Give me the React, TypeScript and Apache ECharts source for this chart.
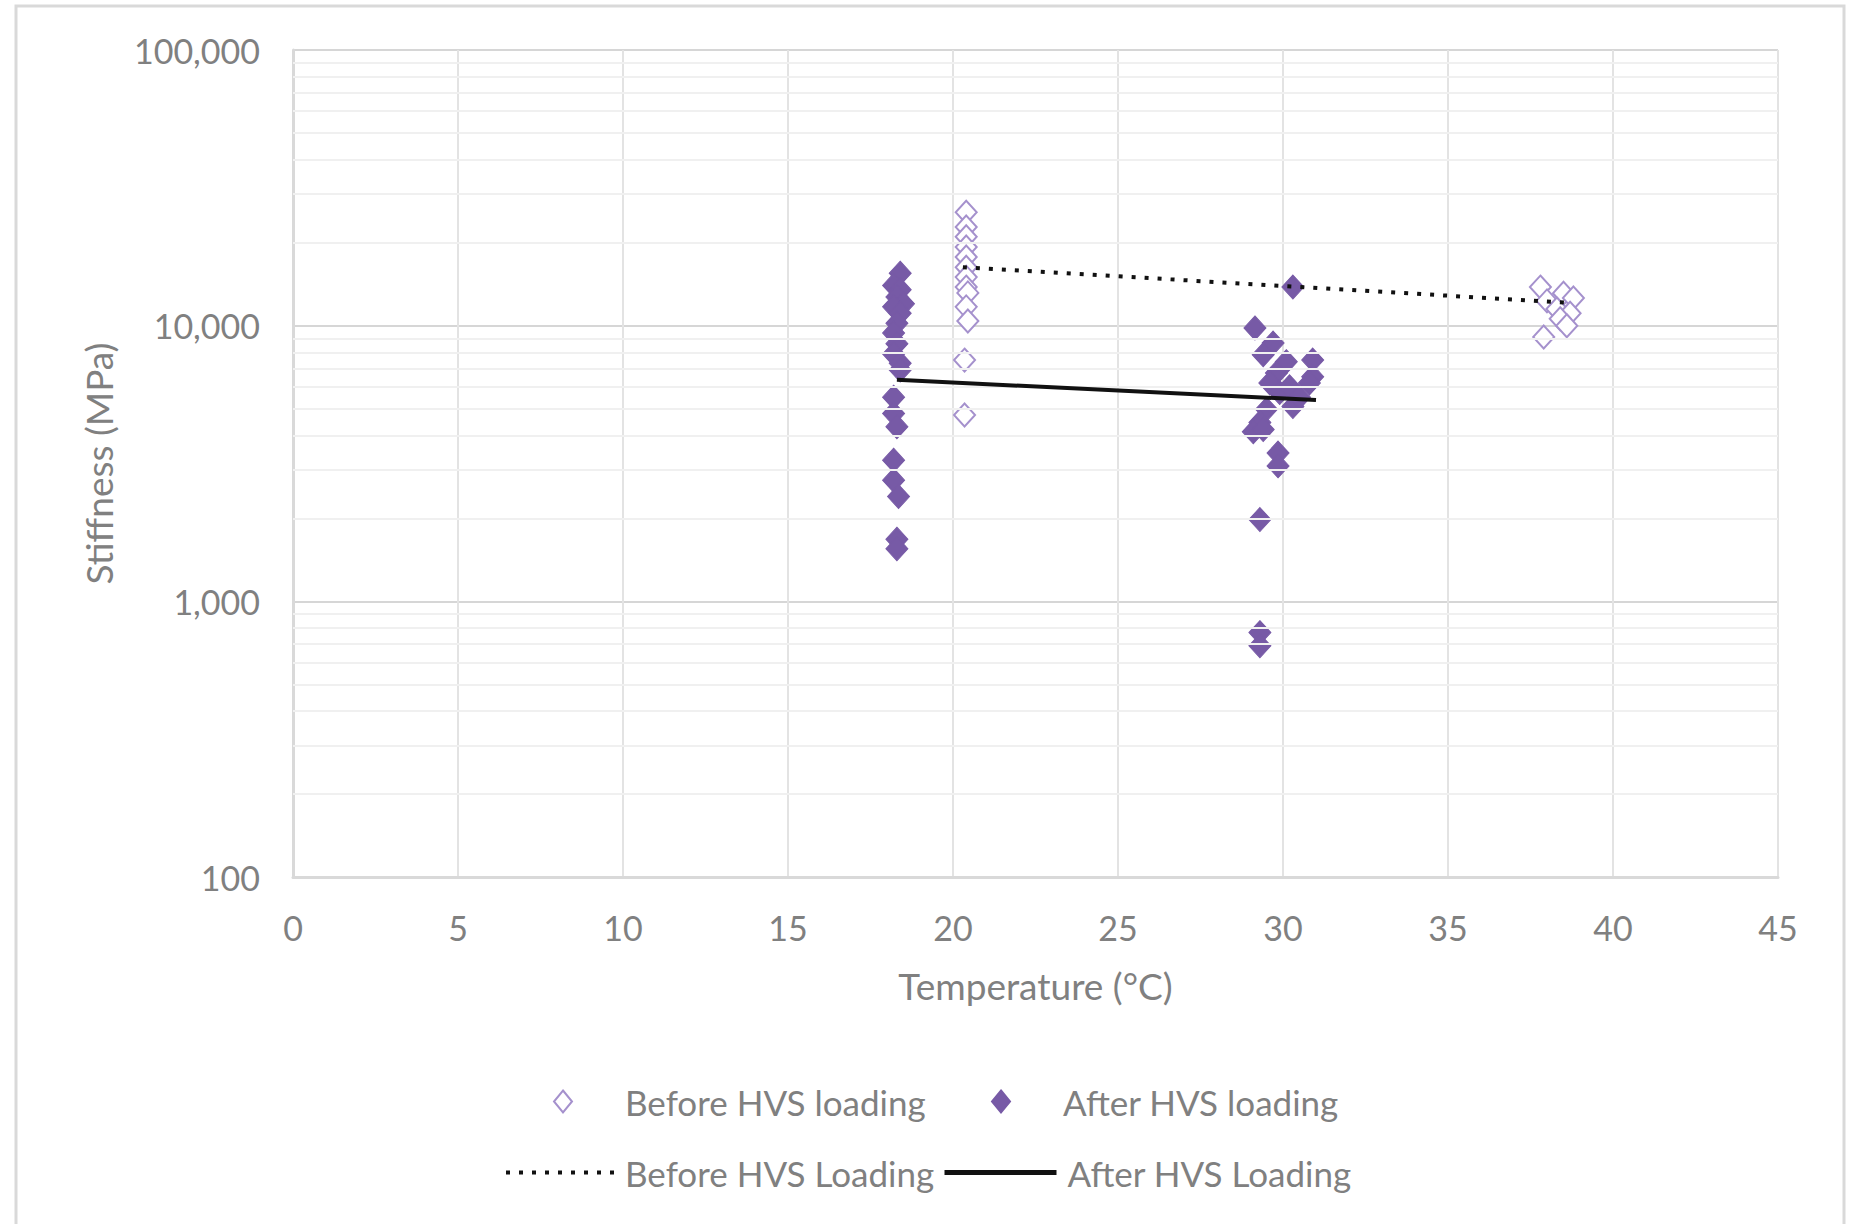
import React, { useEffect, useRef } from "react";
import * as echarts from "echarts";

// Before HVS loading (open diamonds)
const beforeTemp = [20.4, 20.4, 20.4, 20.4, 20.4, 20.4, 20.4, 20.4, 20.45, 20.4, 20.45, 20.35, 20.35,
  37.8, 38.5, 38.8, 38.0, 38.3, 38.7, 38.4, 37.9, 38.6];
const beforeStiff = [25800, 22800, 21000, 19300, 17750, 16300, 15000, 13800, 13150, 11700, 10400, 7500, 4740,
  13800, 13100, 12600, 12300, 11500, 11100, 10600, 9100, 10000];

// After HVS loading (filled diamonds)
const afterTemp = [18.4, 18.2, 18.4, 18.3, 18.5, 18.2, 18.4, 18.3, 18.2, 18.3, 18.2, 18.4, 18.4, 18.2, 18.2, 18.3, 18.2, 18.2, 18.35, 18.3, 18.3,
  30.3, 29.15, 29.7, 29.4, 30.1, 30.9, 30.9, 29.8, 29.6, 30.8, 29.9, 30.3, 29.5, 29.3, 29.1, 29.85, 29.85, 29.3, 29.3, 29.3, 30.2, 30.5, 29.4];
const afterStiff = [15500, 14000, 13500, 12700, 12000, 11700, 11100, 10200, 9400, 8600, 7900, 7300, 6900, 5500, 4800, 4300, 3250, 2750, 2400, 1680, 1550,
  13800, 9810, 8650, 7850, 7400, 7500, 6530, 6740, 6200, 6200, 5720, 5090, 4970, 4450, 4120, 3450, 3100, 1980, 770, 690, 6000, 5500, 4200];

// Trend lines
const beforeTrendTemp = [20.3, 38.7];
const beforeTrendStiff = [16300, 12100];
const afterTrendTemp = [18.3, 31.0];
const afterTrendStiff = [6360, 5375];

// Axis ticks / log minor grid
const xMin = 0;
const xMax = 45;
const xStep = 5;
const yMin = 100;
const yMax = 100000;
const minorGridValues = [200, 300, 400, 500, 600, 700, 800, 900,
  2000, 3000, 4000, 5000, 6000, 7000, 8000, 9000,
  20000, 30000, 40000, 50000, 60000, 70000, 80000, 90000];

const FONT = "Lato";
const TEXT = "#808080";
const PURPLE = "#775aa6";
const LIGHT_PURPLE = "#a591cd";

const zip = (xs: number[], ys: number[]) => xs.map((x, i) => [x, ys[i]]);

export default function App() {
  const ref = useRef<HTMLDivElement>(null);
  useEffect(() => {
    const chart = echarts.init(ref.current!, null, { renderer: "svg" });
    const legendText = { fontFamily: FONT, fontSize: 35, color: TEXT };
    const symLegendText = { ...legendText, padding: [0, 0, 0, 48] };
    const hiddenSymbol = { color: "rgba(0,0,0,0)", borderWidth: 0, opacity: 0 };
    chart.setOption({
      animation: false,
      backgroundColor: "#ffffff",
      textStyle: { fontFamily: FONT },
      graphic: [
        {
          type: "rect",
          shape: { x: 16, y: 6, width: 1828, height: 1260 },
          style: { fill: "none", stroke: "#d9d9d9", lineWidth: 3 },
          silent: true,
        },
      ],
      grid: { left: 293, top: 50, right: 74, bottom: 347 },
      xAxis: {
        type: "value",
        min: xMin,
        max: xMax,
        interval: xStep,
        name: "Temperature (°C)",
        nameLocation: "middle",
        nameGap: 90,
        nameTextStyle: { fontFamily: FONT, fontSize: 37, color: TEXT },
        axisLine: { show: true, lineStyle: { color: "#d9d9d9", width: 3 } },
        axisTick: { show: false },
        axisLabel: { fontFamily: FONT, fontSize: 34, color: TEXT, margin: 33 },
        splitLine: { show: true, lineStyle: { color: "#e3e3e3", width: 2 } },
      },
      yAxis: {
        type: "log",
        logBase: 10,
        min: yMin,
        max: yMax,
        name: "Stiffness (MPa)",
        nameLocation: "middle",
        nameGap: 176,
        nameTextStyle: { fontFamily: FONT, fontSize: 37, color: TEXT },
        axisLine: { show: true, lineStyle: { color: "#d9d9d9", width: 3 } },
        axisTick: { show: false },
        axisLabel: {
          fontFamily: FONT,
          fontSize: 34,
          color: TEXT,
          margin: 33,
          formatter: (v: number) => Math.round(v).toLocaleString("en-US"),
        },
        splitLine: { show: true, lineStyle: { color: "#d6d6d6", width: 2 } },
      },
      legend: [
        {
          data: [{ name: "Before HVS loading", icon: "diamond", itemStyle: { color: "#ffffff", borderColor: LIGHT_PURPLE, borderWidth: 2, opacity: 1 } }],
          left: 553, top: 1084, padding: 0, itemWidth: 18, itemHeight: 22, textStyle: symLegendText,
        },
        {
          data: [{ name: "After HVS loading", icon: "diamond", itemStyle: { color: PURPLE, borderColor: PURPLE, opacity: 1 } }],
          left: 991, top: 1084, padding: 0, itemWidth: 18, itemHeight: 22, textStyle: symLegendText,
        },
        {
          data: ["Before HVS Loading"],
          left: 504, top: 1155, padding: 0, itemWidth: 114, itemHeight: 20, textStyle: legendText,
          itemStyle: hiddenSymbol,
          lineStyle: { width: 4 },
        },
        {
          data: ["After HVS Loading"],
          left: 942, top: 1155, padding: 0, itemWidth: 112, itemHeight: 20,
          textStyle: { ...legendText, padding: [0, 0, 0, 6] },
          itemStyle: hiddenSymbol,
          lineStyle: { width: 5 },
        },
      ],
      series: [
        {
          name: "_minorGrid",
          type: "scatter",
          data: [],
          silent: true,
          z: 1,
          markLine: {
            silent: true,
            symbol: "none",
            label: { show: false },
            lineStyle: { color: "#f0f0f0", width: 2, type: "solid" },
            data: minorGridValues.map((v) => ({ yAxis: v })),
          },
        },
        {
          name: "Before HVS loading",
          type: "scatter",
          symbol: "diamond",
          symbolSize: [21, 23],
          z: 3,
          itemStyle: { color: "#ffffff", borderColor: LIGHT_PURPLE, borderWidth: 2, opacity: 1 },
          data: zip(beforeTemp, beforeStiff),
        },
        {
          name: "After HVS loading",
          type: "scatter",
          symbol: "diamond",
          symbolSize: [22, 24],
          z: 4,
          itemStyle: { color: PURPLE, borderColor: PURPLE, borderWidth: 1, opacity: 1 },
          data: zip(afterTemp, afterStiff),
        },
        {
          name: "Before HVS Loading",
          type: "line",
          symbol: "none",
          z: 5,
          lineStyle: { color: "#111111", width: 4, type: [4, 9] },
          itemStyle: { color: "#111111" },
          data: zip(beforeTrendTemp, beforeTrendStiff),
        },
        {
          name: "After HVS Loading",
          type: "line",
          symbol: "none",
          z: 5,
          lineStyle: { color: "#111111", width: 4, type: "solid" },
          itemStyle: { color: "#111111" },
          data: zip(afterTrendTemp, afterTrendStiff),
        },
      ],
    });
    return () => chart.dispose();
  }, []);
  return (
    <div
      ref={ref}
      style={{ position: "absolute", left: 0, top: 0, width: 1852, height: 1224, background: "#ffffff" }}
    />
  );
}
